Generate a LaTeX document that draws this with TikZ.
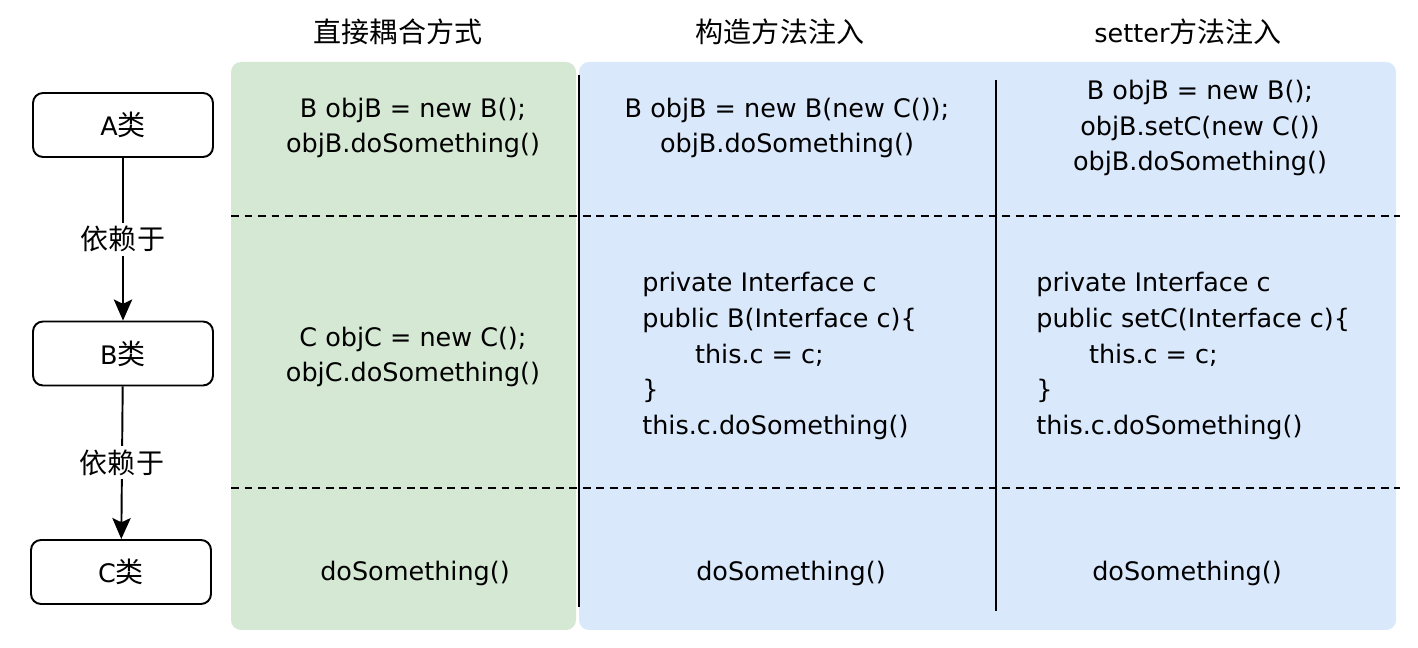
\documentclass[tikz,border=0pt]{standalone}
\usepackage{fontspec}
\setmainfont{DejaVu Sans}
\newfontfamily\cjk[Scale=1.1]{Noto Sans CJK SC}
\usetikzlibrary{positioning,arrows.meta}

\newcommand{\codefont}{\fontsize{14.5}{20.4}\selectfont}
\definecolor{directbg}{HTML}{D5E8D4}
\definecolor{injectbg}{HTML}{DAE8FC}

\tikzset{
  klass/.style={draw, line width=1.1pt, rounded corners=0.2cm, minimum width=3.6cm, minimum height=1.28cm, font=\codefont},
  dep/.style={line width=1.1pt, -{Stealth[length=12pt,width=10.5pt,inset=2.5pt]}},
  deplabel/.style={fill=white, font=\codefont\cjk, inner sep=2pt},
  code/.style={font=\codefont, align=center, inner sep=0pt},
  codeblock/.style={font=\codefont, align=left, inner sep=0pt, anchor=west},
  rowsep/.style={line width=1.1pt, dash pattern=on 4.5pt off 3.2pt},
  colsep/.style={line width=1.3pt},
  colhead/.style={font=\codefont, inner sep=0pt}
}

\begin{document}
\begin{tikzpicture}[x=0.02cm, y=-0.02cm]
\useasboundingbox (0,0) rectangle (1418,648);

% column backgrounds
\fill[directbg, rounded corners=0.2cm] (231,62) rectangle (576,630);
\fill[injectbg, rounded corners=0.2cm] (579,62) rectangle (1396,630);

% headers
\node[colhead] (hdirect) at (398,32) {\cjk 直接耦合方式};
\node[colhead] (hctor) at (780,32) {\cjk 构造方法注入};
\node[colhead] (hsetter) at (1188,32) {setter{\cjk 方法注入}};

% row and column separators
\draw[rowsep] (231,216) -- (1400,216);
\draw[rowsep] (231,488) -- (1400,488);
\draw[colsep] (579,75) -- (579,607);
\draw[colsep] (996,80) -- (996,611);

% classes
\node[klass] (a) at (123,125) {A{\cjk 类}};
\node[klass] (b) at (123,353.5) {B{\cjk 类}};
\node[klass] (c) at (121,572) {C{\cjk 类}};
\draw[dep] (a) -- node[deplabel] {依赖于} (b);
\draw[dep] (b) -- node[deplabel] {依赖于} (c);

% direct coupling
\node[code] (dirA) at (413,128) {B objB = new B();\\objB.doSomething()};
\node[code] (dirB) at (413,357) {C objC = new C();\\objC.doSomething()};
\node[code] (dirC) at (415,573) {doSomething()};

% constructor injection
\node[code] (ctorA) at (787,128) {B objB = new B(new C());\\objB.doSomething()};
\node[codeblock] (ctorB) at (642,356) {private Interface c\\public B(Interface c)\{\\\hspace*{30pt}this.c = c;\\\}\\this.c.doSomething()};
\node[code] (ctorC) at (791,573) {doSomething()};

% setter injection
\node[code] (setA) at (1200,128) {B objB = new B();\\objB.setC(new C())\\objB.doSomething()};
\node[codeblock] (setB) at (1036,356) {private Interface c\\public setC(Interface c)\{\\\hspace*{30pt}this.c = c;\\\}\\this.c.doSomething()};
\node[code] (setC) at (1187,573) {doSomething()};
\end{tikzpicture}
\end{document}
